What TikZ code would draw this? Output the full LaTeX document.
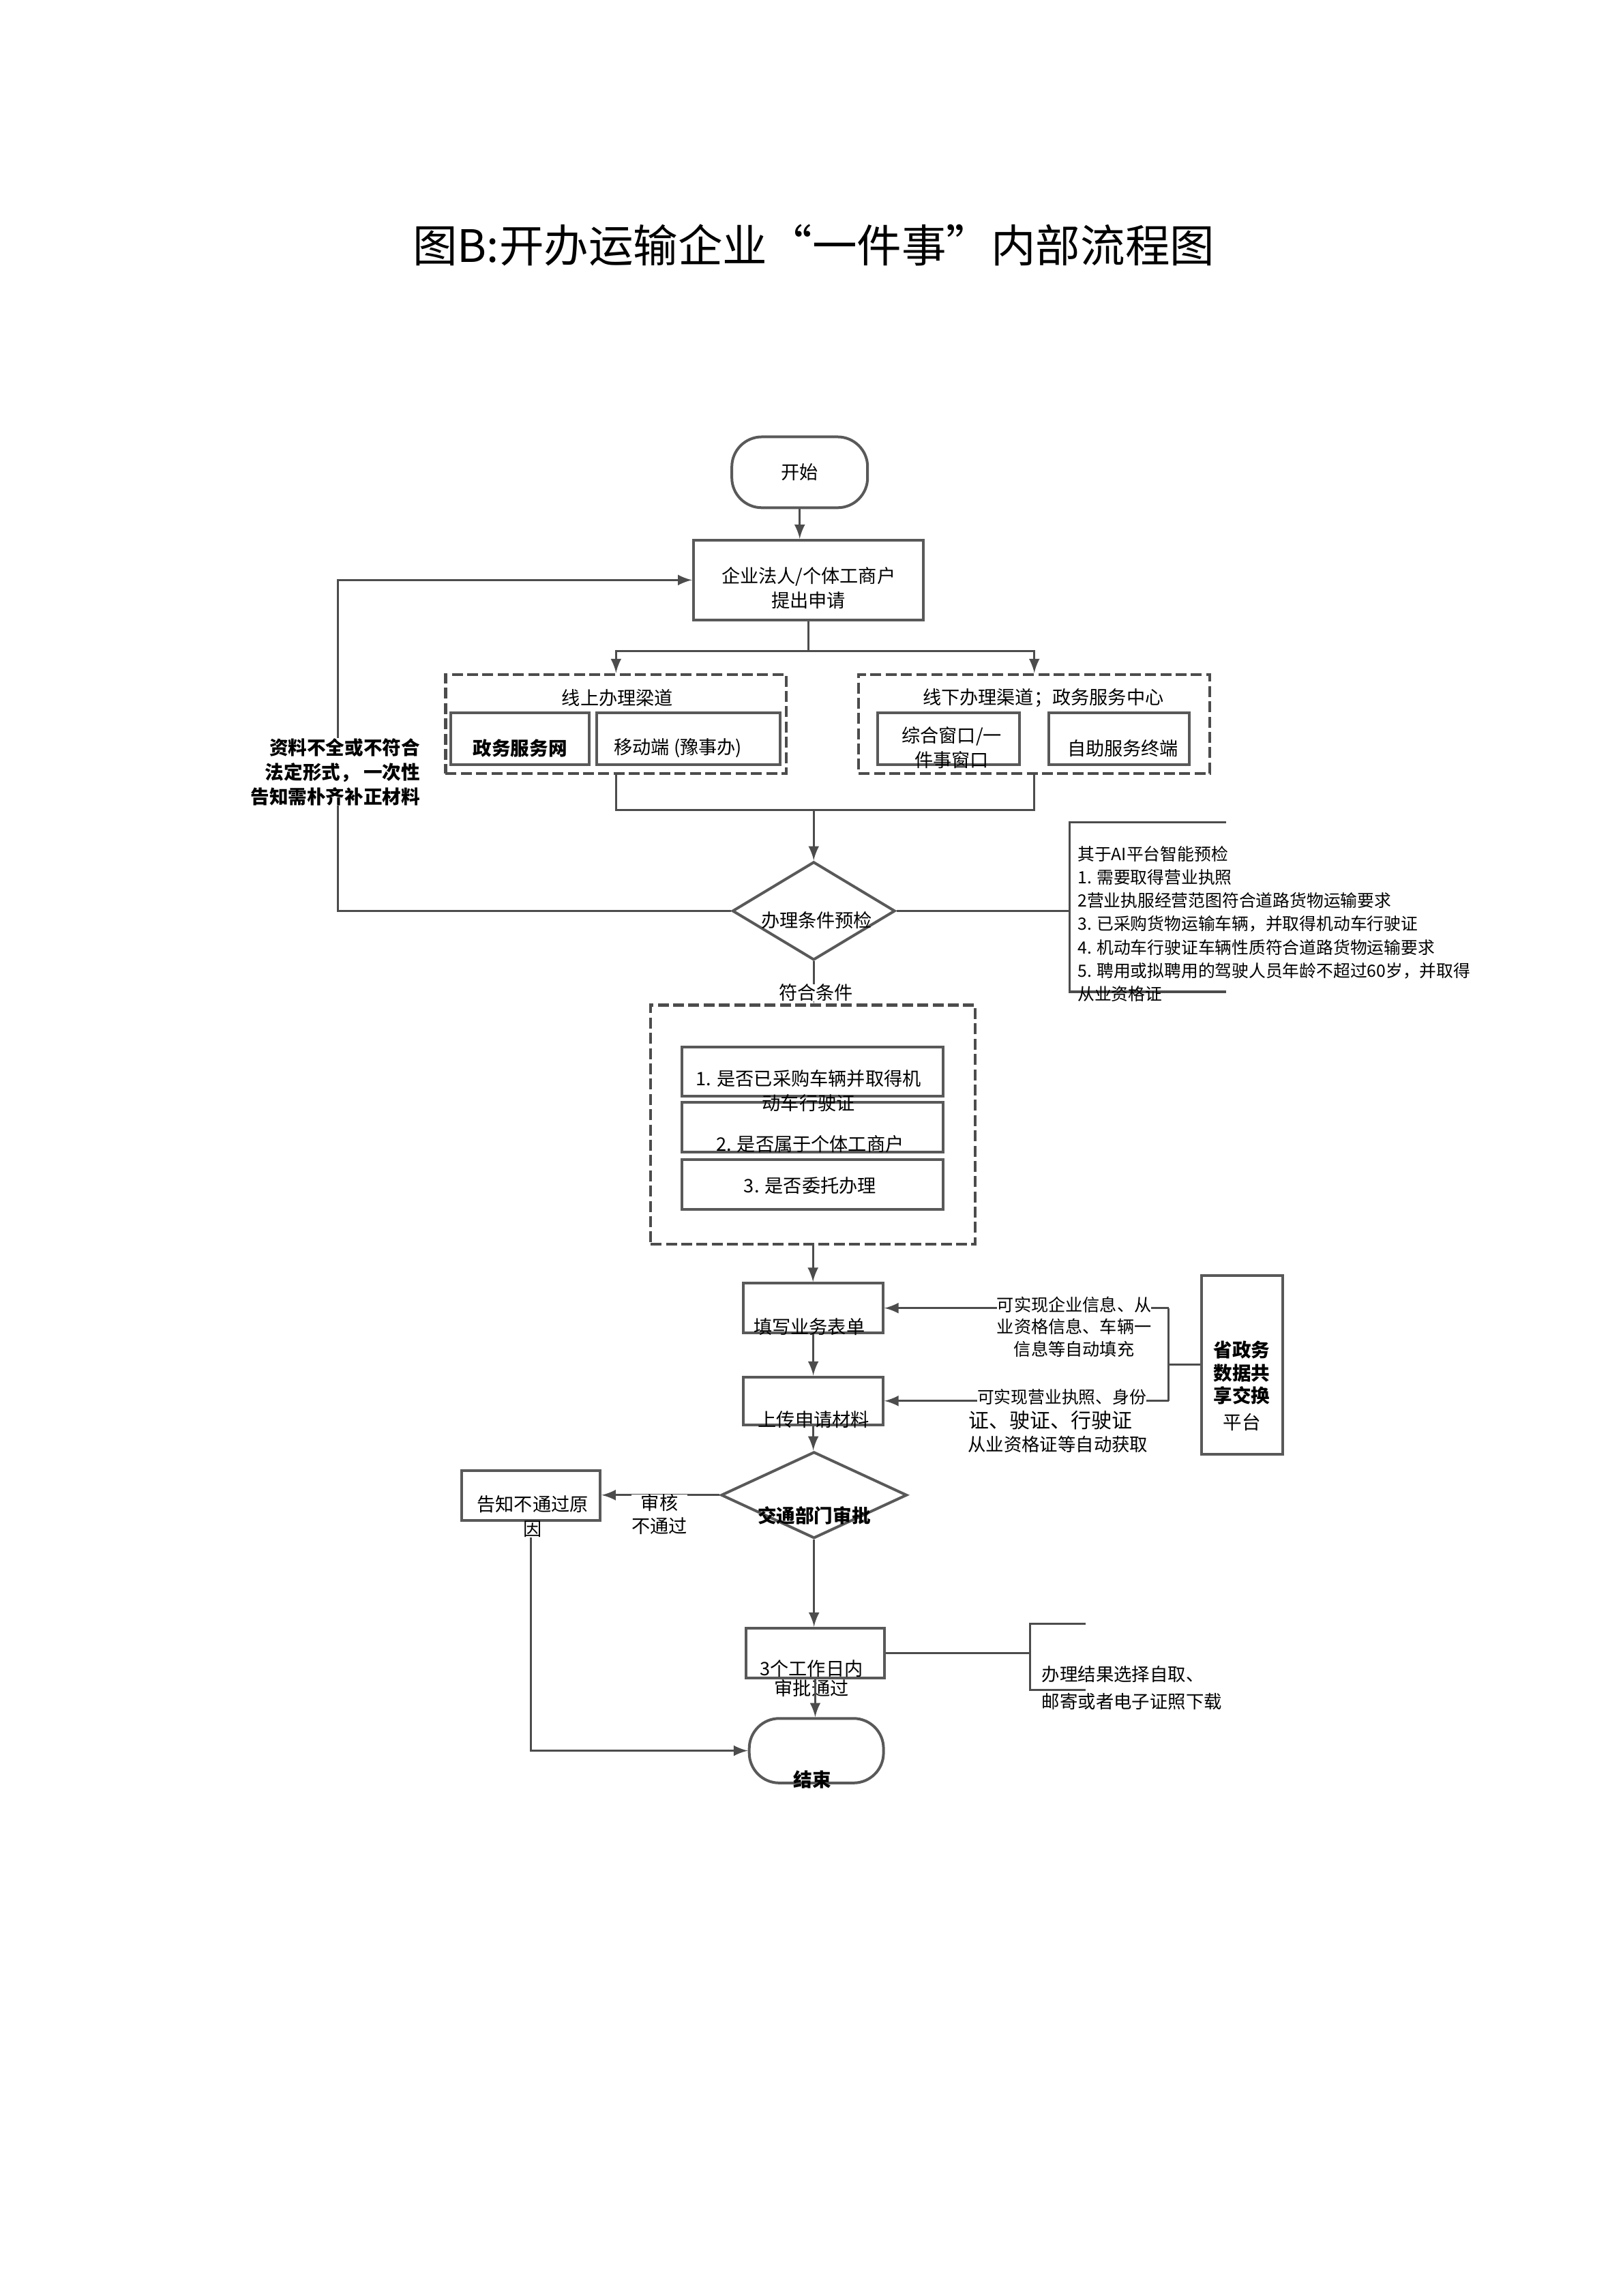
\documentclass[tikz,border=0pt]{standalone}
\usepackage{fontspec}
\setmainfont{Noto Sans CJK SC}
\usetikzlibrary{arrows,shapes,positioning}
\newlength{\pu}\setlength{\pu}{0.5412pt}

\begin{document}
\begin{tikzpicture}[
  x=\pu, y=-\pu,
  >=latex,
  every node/.style={inner sep=0pt},
  box/.style={draw=black!65,line width=1pt,rectangle},
  dbox/.style={draw=black!70,line width=1.1pt,dash pattern=on 4pt off 1.6pt},
  term/.style={draw=black!65,line width=1pt,rounded corners=11pt},
  cond/.style={draw=black!65,line width=1pt,diamond},
  txt/.style={font=\fontsize{6.8}{9}\selectfont,align=center},
  btxt/.style={font=\fontsize{6.9}{9}\selectfont\bfseries,align=center},
  note/.style={font=\fontsize{6.3}{8.3}\selectfont,align=left},
  link/.style={draw=black!70,line width=0.8pt},
  ]
  \useasboundingbox (0,0) rectangle (1100,1555.7);

  \node[font=\fontsize{16.4}{20}\selectfont] (title) at (551.5,166) {图B:开办运输企业“一件事”内部流程图};

  % start and application
  \node[term, txt, minimum width=92*\pu, minimum height=48*\pu] (start) at (542,320) {开始};
  \node[box, minimum width=156*\pu, minimum height=54*\pu] (apply) at (548,393) {};
  \node[txt] (applytxt) at (548,398.5) {企业法人/个体工商户\\提出申请};
  \draw[link,->] (start.south) -- (start.south |- apply.north);

  % channels
  \node[dbox, minimum width=231*\pu, minimum height=67*\pu] (online) at (417.5,490.5) {};
  \node[txt] (onlinetxt) at (418.5,473) {线上办理梁道};
  \node[box, minimum width=94*\pu, minimum height=35*\pu] (web) at (352.5,500.5) {};
  \node[btxt] (webtxt) at (352.5,507) {政务服务网};
  \node[box, minimum width=124*\pu, minimum height=35*\pu] (app) at (466.5,500.5) {};
  \node[txt] (apptxt) at (459.5,507) {移动端 (豫事办)};

  \node[dbox, minimum width=238*\pu, minimum height=67*\pu] (offline) at (701,490.5) {};
  \node[txt] (offlinetxt) at (707,473) {线下办理渠道；政务服务中心};
  \node[box, minimum width=96*\pu, minimum height=35*\pu] (window) at (643,500.5) {};
  \node[txt] (windowtxt) at (645,506.5) {综合窗口/一\\件事窗口};
  \node[box, minimum width=95*\pu, minimum height=35*\pu] (kiosk) at (758.5,500.5) {};
  \node[txt] (kiosktxt) at (761,507) {自助服务终端};

  \coordinate (split) at (548,441);
  \coordinate (merge) at (551.5,549);
  \draw[link] (apply.south) -- (split);
  \draw[link,->] (split) -| (online.north);
  \draw[link,->] (split) -| (offline.north);
  \draw[link] (online.south) |- (merge);
  \draw[link] (offline.south) |- (merge);

  % pre-check
  \node[cond, minimum width=110.3*\pu, minimum height=66.6*\pu] (check) at (551.5,617.2) {};
  \node[txt] (checktxt) at (553.5,623.5) {办理条件预检};
  \draw[link,->] (merge) -- (check.north);

  \coordinate (loop) at (229,617.2);
  \draw[link,->] (check.west) -- (loop) |- (apply.west);
  \node[btxt, fill=white, align=right, anchor=east] (looptxt) at (285,523) {资料不全或不符合\\法定形式， 一次性\\告知需朴齐补正材料};

  \coordinate (ai) at (725,617.2);
  \draw[link] (check.east) -- (ai);
  \draw[link] (831,557) -- (725,557) -- (725,672) -- (831,672);
  \node[note, font=\fontsize{6.2}{8.55}\selectfont, anchor=west] (aitxt) at (730,626)
    {其于AI平台智能预检\\1. 需要取得营业执照\\2营业执服经营范图符合道路货物运输要求\\3. 已采购货物运输车辆，并取得机动车行驶证\\4. 机动车行驶证车辆性质符合道路货物运输要求\\5. 聘用或拟聘用的驾驶人员年龄不超过60岁，并取得\\从业资格证};

  % requirements
  \node[dbox, minimum width=220*\pu, minimum height=162*\pu] (req) at (551,762) {};
  \draw[link,->] (check.south) -- (check.south |- req.north);
  \node[txt, fill=white] (oktxt) at (553,672.5) {符合条件};
  \node[box, minimum width=177*\pu, minimum height=33*\pu] (req1) at (550.5,726) {};
  \node[box, minimum width=177*\pu, minimum height=33.6*\pu] (req2) at (550.5,763.8) {};
  \node[box, minimum width=177*\pu, minimum height=33.6*\pu] (req3) at (550.5,802.5) {};
  \node[txt] (req1txt) at (548,739) {1. 是否已采购车辆并取得机\\动车行驶证};
  \node[txt] (req2txt) at (549,775) {2. 是否属于个体工商户};
  \node[txt] (req3txt) at (549,803.5) {3. 是否委托办理};

  % form and upload
  \node[box, minimum width=94.4*\pu, minimum height=33.7*\pu] (form) at (551.2,886.3) {};
  \node[txt] (formtxt) at (548.5,899) {填写业务表单};
  \node[box, minimum width=94.4*\pu, minimum height=32.5*\pu] (upload) at (551.2,949.2) {};
  \node[txt] (uploadtxt) at (551.5,962) {上传申请材料};
  \draw[link,->] (req.south) -- (req.south |- form.north);
  \draw[link,->] (form.south) -- (upload.north);

  % data platform
  \node[box, minimum width=55*\pu, minimum height=121*\pu] (platform) at (841.75,924.75) {};
  \node[font=\fontsize{6.9}{8.4}\selectfont, align=center] (platformtxt) at (841.7,939)
    {\textbf{省政务}\\\textbf{数据共}\\\textbf{享交换}\\[1.2pt]平台};
  \coordinate (hub) at (792,924.75);
  \coordinate (hubtop) at (792,886.3);
  \coordinate (hubbot) at (792,949.2);
  \draw[link] (platform.west) -- (hub);
  \draw[link] (hubtop) -- (hubbot);
  \draw[link,->] (hubtop) -- (form.east);
  \draw[link,->] (hubbot) -- (upload.east);
  \node[note, align=center, font=\fontsize{6.3}{8.1}\selectfont, fill=white] (filltxt) at (728,899)
    {可实现企业信息、从\\业资格信息、车辆一\\信息等自动填充};
  \node[font=\fontsize{6.2}{8}\selectfont, fill=white, anchor=west] (fetch1) at (662,946.4) {可实现营业执照、身份};
  \node[font=\fontsize{7.5}{9}\selectfont, anchor=west] (fetch2) at (656,962.4) {证、驶证、行驶证};
  \node[font=\fontsize{6.6}{8}\selectfont, anchor=west] (fetch3) at (655.6,978.8) {从业资格证等自动获取};

  % approval
  \node[cond, minimum width=126*\pu, minimum height=58.6*\pu] (approve) at (551.7,1013) {};
  \node[btxt] (approvetxt) at (551.8,1026.8) {交通部门审批};
  \draw[link,->] (upload.south) -- (upload.south |- approve.north);

  \node[box, minimum width=93.7*\pu, minimum height=33.8*\pu] (reject) at (359.9,1013.4) {};
  \node[txt] (rejecttxt) at (361,1027.5) {告知不通过原\\因};
  \draw[link,->] (approve.west) -- (approve.west -| reject.east);
  \node[txt, font=\fontsize{6.8}{8.4}\selectfont, fill=white] (notpass) at (447,1026) {审核\\不通过};

  \node[box, minimum width=94.2*\pu, minimum height=33.8*\pu] (done) at (552.5,1120) {};
  \node[txt, font=\fontsize{6.8}{7.4}\selectfont] (donetxt) at (550,1137.3) {3个工作日内\\审批通过};
  \draw[link,->] (approve.south) -- (approve.south |- done.north);

  \node[term, minimum width=91*\pu, minimum height=43.7*\pu] (end) at (553.3,1186.2) {};
  \node[btxt] (endtxt) at (550.5,1206) {结束};
  \draw[link,->] (done.south) -- (done.south |- end.north);
  \draw[link,->] (rejecttxt.south -| reject.south) |- (end.west);

  % result delivery
  \coordinate (pick) at (698.3,1120);
  \draw[link] (done.east) -- (pick);
  \draw[link] (736,1100.2) -- (698.3,1100.2) -- (698.3,1145.2) -- (736,1145.2);
  \node[note, font=\fontsize{6.6}{10}\selectfont, anchor=west] (picktxt) at (705.8,1143.5)
    {办理结果选择自取、\\邮寄或者电子证照下载};

\end{tikzpicture}
\end{document}
